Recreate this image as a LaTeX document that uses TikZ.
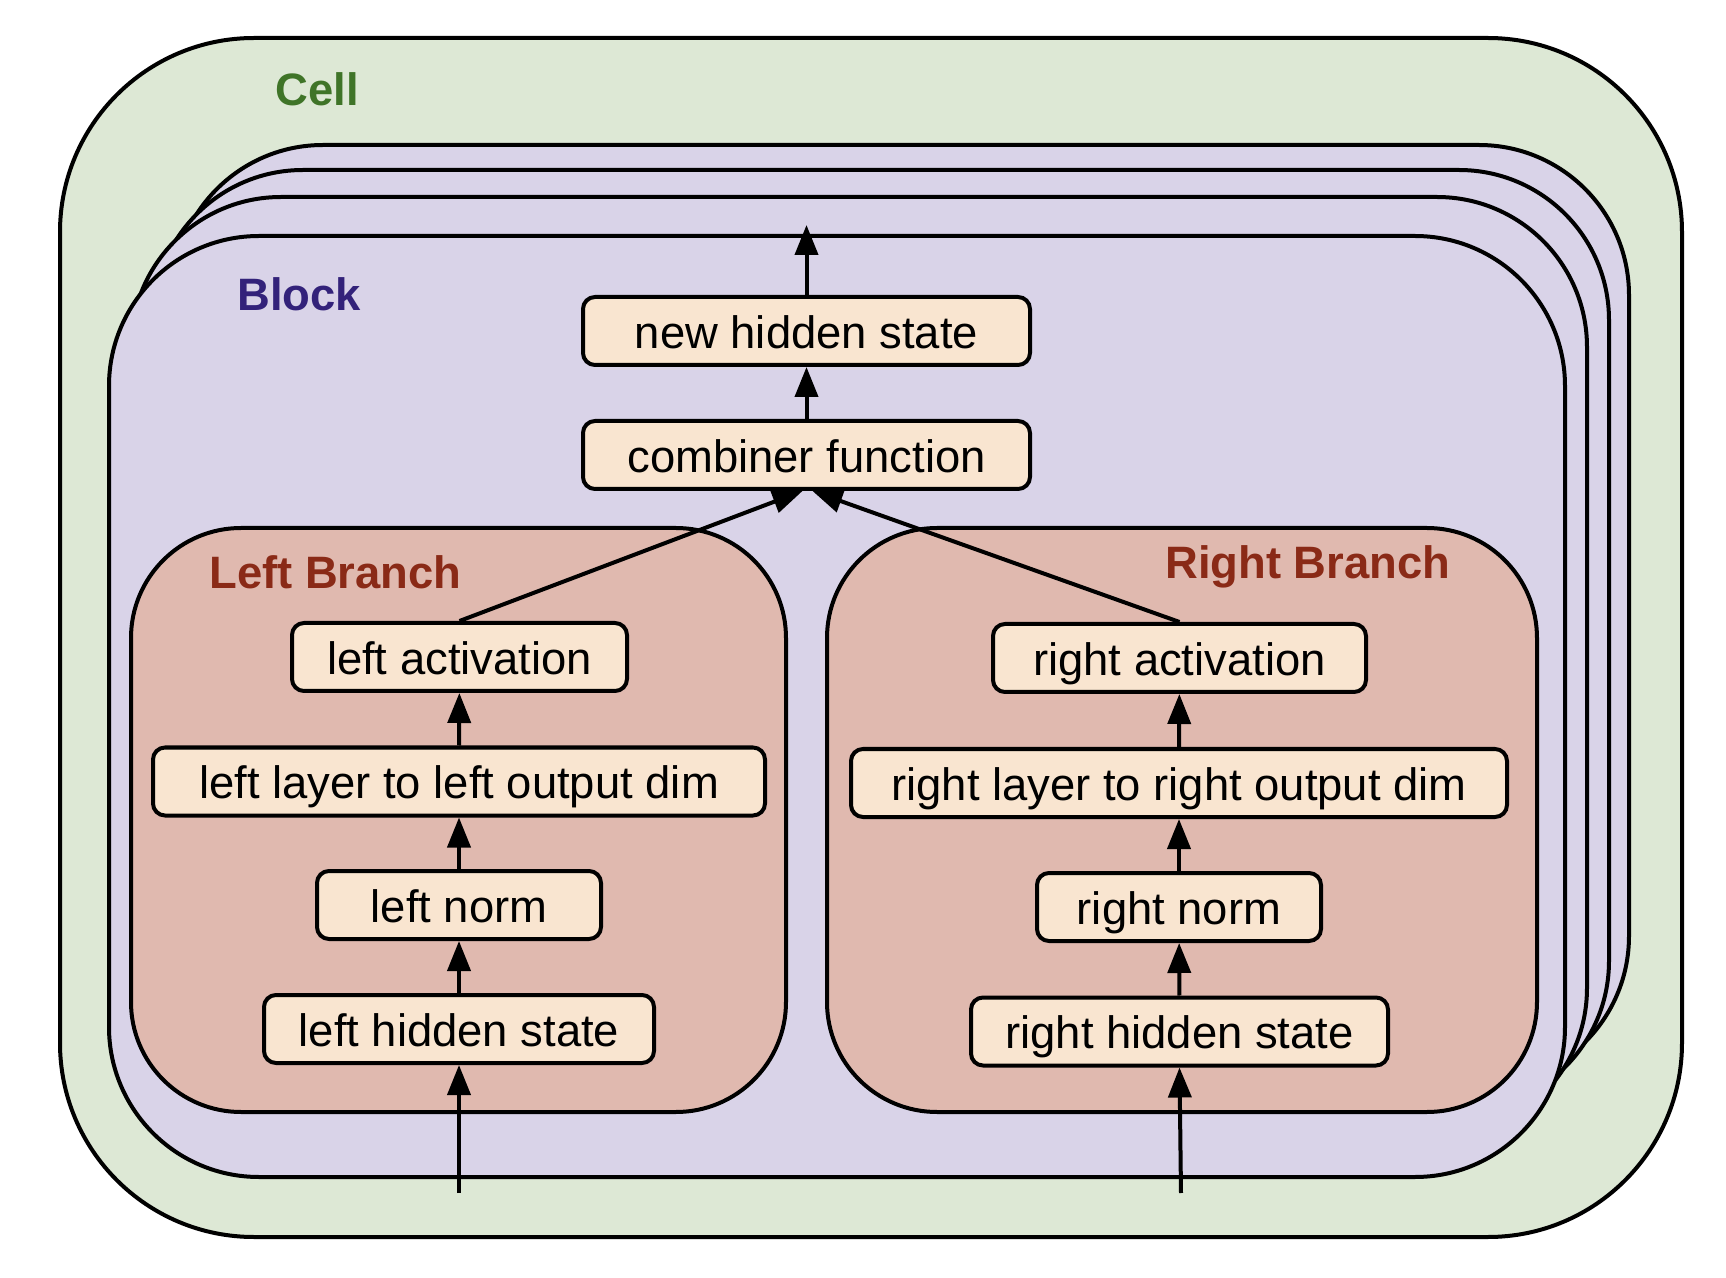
\documentclass[tikz,border=0pt]{standalone}
\usepackage{fontspec}
\setmainfont{Liberation Sans}
\usepackage{xcolor}
\usetikzlibrary{arrows.meta}

\definecolor{cellgreen}{HTML}{DDE8D5}
\definecolor{blockpurple}{HTML}{D9D3E8}
\definecolor{branchred}{HTML}{E0B9AF}
\definecolor{boxorange}{HTML}{F9E5D0}
\definecolor{celltext}{HTML}{3F7428}
\definecolor{blocktext}{HTML}{33227A}
\definecolor{branchtext}{HTML}{8A2A17}

\tikzset{
  fnbox/.style={draw, line width=2pt, rounded corners=6pt, fill=boxorange,
    minimum height=34pt, inner sep=0pt, text height=22pt, text depth=4.8pt,
    font=\fontsize{22.7}{27}\selectfont},
  container/.style={draw, line width=2pt},
  grouptitle/.style={anchor=west, inner sep=0pt, font=\fontsize{22.7}{27}\selectfont\bfseries},
  flow/.style={line width=2pt, -{Triangle[length=15pt,width=11.5pt]}}
}

\begin{document}
\begin{tikzpicture}[x=0.5pt, y=-0.5pt]
\useasboundingbox (0,0) rectangle (1726,1278);
% cell
\draw[container, fill=cellgreen, rounded corners=97pt] (60,38) rectangle (1682,1237);
\node[grouptitle, text=celltext] (celltitle) at (275,89) {Cell};
% stacked blocks, back to front
\foreach \dx/\dy in {64/-91, 44/-66, 22/-39}
  \draw[container, fill=blockpurple, rounded corners=75pt] (109+\dx,236+\dy) rectangle (1565+\dx,1177+\dy);
\draw[container, fill=blockpurple, rounded corners=75pt] (109,236) rectangle (1565,1177);
\node[grouptitle, text=blocktext] (blocktitle) at (237,294) {Block};
% branches
\draw[container, fill=branchred, rounded corners=55pt] (131,528) rectangle (786,1112);
\draw[container, fill=branchred, rounded corners=55pt] (827,528) rectangle (1537,1112);
\node[grouptitle, text=branchtext] (lefttitle) at (209,572) {Left Branch};
\node[grouptitle, text=branchtext] (righttitle) at (1165,567) {Right Branch};

% operations
\node[fnbox, minimum width=223.5pt] (newstate) at (806.5,331) {new hidden state};
\node[fnbox, minimum width=223.5pt] (combiner) at (806.5,455) {combiner function};
\node[fnbox, minimum width=167.5pt] (leftact) at (459.5,657) {left activation};
\node[fnbox, minimum width=306pt] (leftlayer) at (459,781.5) {left layer to left output dim};
\node[fnbox, minimum width=142pt] (leftnorm) at (459,905) {left norm};
\node[fnbox, minimum width=195pt] (lefthidden) at (459,1029) {left hidden state};
\node[fnbox, minimum width=186.5pt] (rightact) at (1179.5,658) {right activation};
\node[fnbox, minimum width=328pt] (rightlayer) at (1179,783) {right layer to right output dim};
\node[fnbox, minimum width=142pt] (rightnorm) at (1179,907) {right norm};
\node[fnbox, minimum width=208.5pt] (righthidden) at (1179.5,1031.5) {right hidden state};

% connections
\coordinate (blockout) at (806.5,225);
\coordinate (leftin) at (459,1193);
\coordinate (rightin) at (1181,1193);
\draw[flow] (newstate.north) -- (blockout);
\draw[flow] (combiner) -- (newstate);
\draw[flow] (leftact.north) -- ([xshift=-2pt]combiner.south);
\draw[flow] (rightact.north) -- ([xshift=3pt]combiner.south);
\draw[flow] (leftlayer) -- (leftact);
\draw[flow] (leftnorm) -- (leftlayer);
\draw[flow] (lefthidden) -- (leftnorm);
\draw[flow] (leftin) -- (lefthidden.south);
\draw[flow] (rightlayer) -- (rightact);
\draw[flow] (rightnorm) -- (rightlayer);
\draw[flow] (righthidden) -- (rightnorm);
\draw[flow] (rightin) -- (righthidden.south);
\end{tikzpicture}
\end{document}
